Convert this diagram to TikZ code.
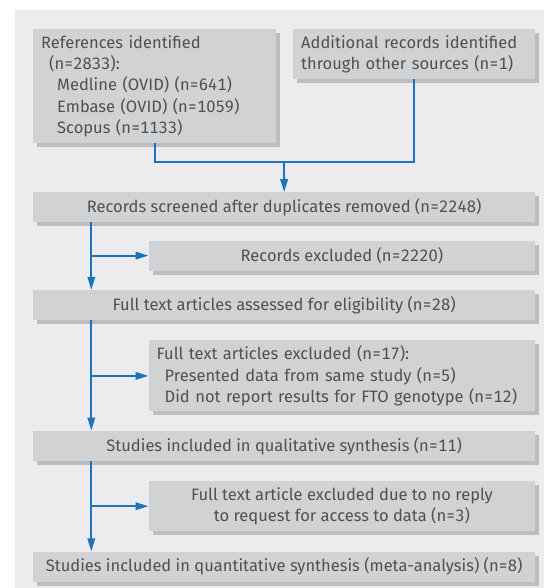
\documentclass[tikz,border=0pt]{standalone}
\usepackage{fontspec}
\setmainfont[Numbers={Monospaced,Lining}]{Fira Sans}
\usepackage{tikz}
\usetikzlibrary{positioning, arrows.meta, shadows}
\definecolor{panelfill}{RGB}{236,236,238}
\definecolor{boxfill}{RGB}{209,210,212}
\definecolor{boxshade}{RGB}{188,189,191}
\definecolor{boxtext}{RGB}{80,80,82}
\definecolor{flowblue}{RGB}{27,117,188}
\tikzset{
  flowbox/.style={
    rectangle, fill=boxfill,
    drop shadow={shadow xshift=4pt, shadow yshift=-4pt, fill=boxshade, opacity=1},
    minimum height=30pt, minimum width=502pt,
    align=center, text=boxtext, inner xsep=8pt, inner ysep=2pt,
    font=\fontsize{16.5}{21.3}\selectfont
  },
  flowbox-side/.style={flowbox, minimum width=386.5pt},
  flowline/.style={draw=flowblue, line width=1.8pt},
  flowarrow/.style={
    -{Triangle[length=13pt, width=7.5pt]}, draw=flowblue, fill=flowblue, line width=1.8pt
  }
}

\begin{document}
\begin{tikzpicture}[x=1pt, y=-1pt, node distance=19pt]
  \useasboundingbox (0,0) rectangle (544,588);
  \fill[panelfill] (14.5,10) rectangle (544,588);

  % sources
  \node[flowbox, anchor=north west, minimum width=243pt, minimum height=114pt,
        text width=227pt, align=left] (refs) at (33,29)
    {References identified\\
     \hspace*{8pt}(n=2833):\\
     \hspace*{16pt}Medline (OVID) (n=641)\\
     \hspace*{16pt}Embase (OVID) (n=1059)\\
     \hspace*{16pt}Scopus (n=1133)};
  \node[flowbox, anchor=north west, minimum width=242pt, minimum height=50pt,
        text width=226pt, align=left] (other) at (293,29)
    {Additional records identified\\through other sources (n=1)};

  % main column
  \node[flowbox, anchor=north west] (screened) at (33,192)
    {Records screened after duplicates removed (n=2248)};
  \node[flowbox-side, below=18pt of screened.south east, anchor=north east] (excl1)
    {Records excluded (n=2220)};
  \node[flowbox, below=of excl1.south east, anchor=north east] (assessed)
    {Full text articles assessed for eligibility (n=28)};
  \node[flowbox-side, below=20pt of assessed.south east, anchor=north east,
        minimum height=71pt, text width=370.5pt, align=left] (excl2)
    {Full text articles excluded (n=17):\\
     \hspace*{8pt}Presented data from same study (n=5)\\
     \hspace*{8pt}Did not report results for FTO genotype (n=12)};
  \node[flowbox, below=of excl2.south east, anchor=north east] (qual)
    {Studies included in qualitative synthesis (n=11)};
  \node[flowbox-side, below=20pt of qual.south east, anchor=north east,
        minimum height=50pt] (excl3)
    {Full text article excluded due to no reply\\to request for access to data (n=3)};
  \node[flowbox, below=20pt of excl3.south east, anchor=north east] (quant)
    {Studies included in quantitative synthesis (meta-analysis) (n=8)};

  % connectors
  \coordinate (merge) at (284,162);
  \coordinate (spine) at (91.3,0);
  \draw[flowline] (refs.south) |- (merge) -| (other.south);
  \draw[flowarrow] (merge) -- (screened.north);
  \draw[flowarrow] (screened.south -| spine) -- (assessed.north -| spine);
  \draw[flowarrow] (excl1.west -| spine) -- (excl1.west);
  \draw[flowarrow] (assessed.south -| spine) -- (qual.north -| spine);
  \draw[flowarrow] (excl2.west -| spine) -- (excl2.west);
  \draw[flowarrow] (qual.south -| spine) -- (quant.north -| spine);
  \draw[flowarrow] (excl3.west -| spine) -- (excl3.west);
\end{tikzpicture}
\end{document}
